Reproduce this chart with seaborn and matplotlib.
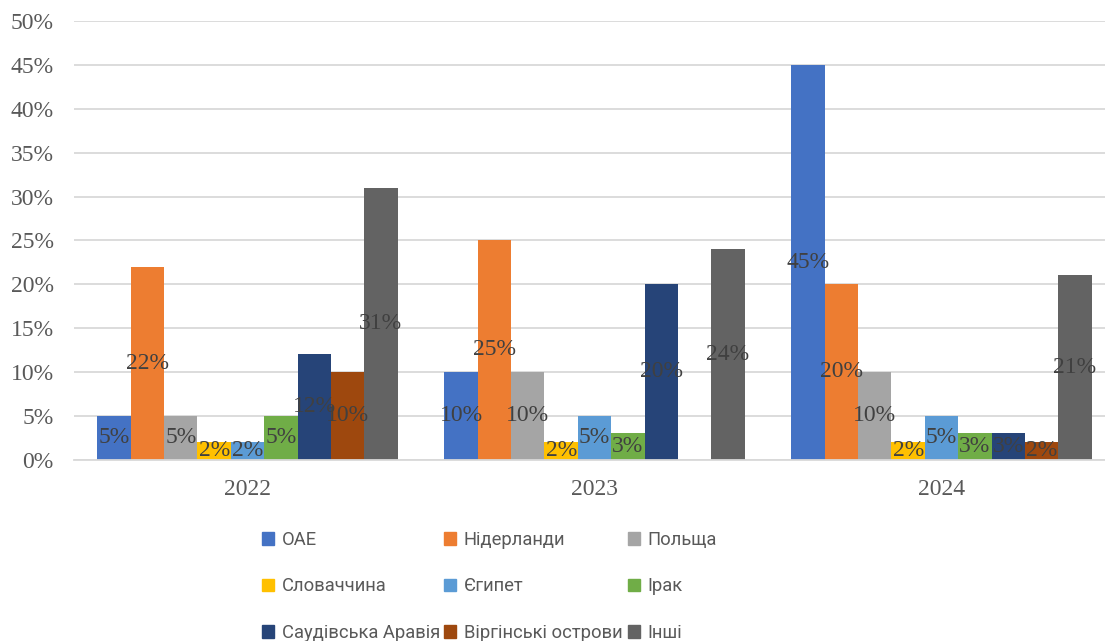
import matplotlib
matplotlib.use("Agg")
import matplotlib.pyplot as plt
import matplotlib.patches as mpatches
import seaborn as sns
import pandas as pd
from matplotlib.ticker import MultipleLocator, FuncFormatter

# Export shares by destination, %
years = ["2022", "2023", "2024"]
countries = ["ОАЕ", "Нідерланди", "Польща", "Словаччина", "Єгипет", "Ірак",
             "Саудівська Аравія", "Віргінські острови", "Інші"]
uae = [5, 10, 45]
netherlands = [22, 25, 20]
poland = [5, 10, 10]
slovakia = [2, 2, 2]
egypt = [2, 5, 5]
iraq = [5, 3, 3]
saudi = [12, 20, 3]
virgin = [10, 0, 2]
other = [31, 24, 21]

colors = ["#4472C4", "#ED7D31", "#A5A5A5", "#FFC000", "#5B9BD5", "#70AD47",
          "#264478", "#9E480E", "#636363"]

series = [uae, netherlands, poland, slovakia, egypt, iraq, saudi, virgin, other]
rows = []
for name, vals in zip(countries, series):
    for y, v in zip(years, vals):
        rows.append({"year": y, "country": name, "share": v})
df = pd.DataFrame(rows)

sns.set_theme(style="white")
serif = ["Liberation Serif", "DejaVu Serif"]
sans = ["Roboto", "DejaVu Sans"]

fig = plt.figure(figsize=(11.05, 6.41), dpi=100)
ax = fig.add_axes([74 / 1105, 1 - 459.5 / 641, 1041 / 1105, 438.2 / 641])

sns.barplot(data=df, x="year", y="share", hue="country", order=years,
            hue_order=countries, palette=colors, width=0.865, ax=ax,
            legend=False, saturation=1, linewidth=0)

ax.set_ylim(0, 50)
ax.set_xlim(-0.5, 2.5)
ax.yaxis.set_major_locator(MultipleLocator(5))
ax.yaxis.set_major_formatter(FuncFormatter(lambda v, _: f"{v:.0f}%"))
ax.grid(axis="y", color="#d9d9d9", linewidth=1.3)
ax.set_axisbelow(True)
for s in ["top", "right", "left"]:
    ax.spines[s].set_visible(False)
ax.spines["bottom"].set_color("#d9d9d9")
ax.spines["bottom"].set_linewidth(1.3)
ax.set_xlabel("")
ax.set_ylabel("")
ax.tick_params(axis="y", length=0, pad=14.5, labelcolor="#595959", labelsize=17)
ax.tick_params(axis="x", length=0, pad=14, labelcolor="#595959", labelsize=17)
for lab in ax.get_xticklabels() + ax.get_yticklabels():
    lab.set_family(serif)

# value labels in the middle of each bar
for cont in ax.containers:
    for bar in cont:
        h = bar.get_height()
        if h > 0:
            ax.text(bar.get_x() + bar.get_width() / 2, h / 2, f"{h:.0f}%",
                    ha="center", va="center", fontsize=17, color="#404040",
                    family=serif)

# legend: three columns, filled row by row
handles = [mpatches.Patch(color=c, label=n) for c, n in zip(colors, countries)]
col_x = [262, 444, 628]
for c in range(3):
    idx = [c, c + 3, c + 6]
    leg = fig.legend([handles[i] for i in idx], [countries[i] for i in idx],
                     ncols=1, loc="upper left",
                     bbox_to_anchor=(col_x[c] / 1105, 1 - 531 / 641),
                     frameon=False, fontsize=13.2, handlelength=0.68,
                     handleheight=0.68, handletextpad=0.4, labelspacing=1.55,
                     borderpad=0, borderaxespad=0)
    for t in leg.get_texts():
        t.set_color("#595959")
        t.set_family(sans)

fig.savefig("out.png", dpi=100)
